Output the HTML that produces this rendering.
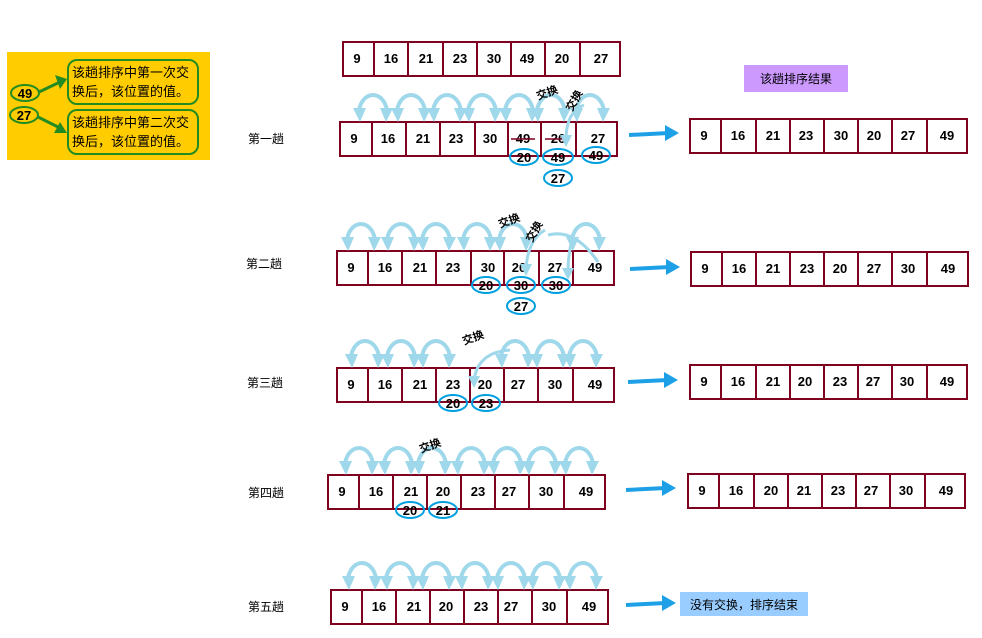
<!DOCTYPE html>
<html><head><meta charset="utf-8"><style>
body{margin:0;background:#fff}
svg{display:block}
text{font-family:"Liberation Sans","Noto Sans CJK SC",sans-serif;}
.n{font-size:13px;fill:#000;text-anchor:middle;font-weight:bold}
.c{stroke:#800020;stroke-width:2;fill:#fff}
.e{stroke:#00a0e0;stroke-width:2;fill:none}
.l{font-size:12px;text-anchor:middle}
</style></head><body>
<svg width="982" height="638" viewBox="0 0 982 638">
<defs>
<g id="arc"><path d="M-14,-12 C-10,-32 10,-32 14,-12" fill="none" stroke="#9ed8ea" stroke-width="4"/><polygon points="-20,-14 -7,-14 -13,0" fill="#9ed8ea"/><polygon points="7,-14 20,-14 13,0" fill="#9ed8ea"/></g>
<g id="bl"><path d="M0,0 L40,-2" stroke="#1ea0e6" stroke-width="4"/><polygon points="36,-10 50,-2 36,6" fill="#1ea0e6"/></g>
</defs>

<!-- legend -->
<rect x="7" y="52" width="203" height="108" fill="#ffcc00"/>
<rect x="68" y="60" width="130" height="44" rx="9" fill="#ffcc00" stroke="#228b22" stroke-width="2"/>
<rect x="68" y="110" width="130" height="44" rx="9" fill="#ffcc00" stroke="#228b22" stroke-width="2"/>
<text x="72" y="77" font-size="13">该趟排序中第一次交</text><text x="72" y="96" font-size="13">换后，该位置的值。</text>
<text x="72" y="127" font-size="13">该趟排序中第二次交</text><text x="72" y="146" font-size="13">换后，该位置的值。</text>
<ellipse cx="25" cy="93" rx="14" ry="8" fill="#ffcc00" stroke="#228b22" stroke-width="2"/>
<ellipse cx="24" cy="115" rx="14" ry="8" fill="#ffcc00" stroke="#228b22" stroke-width="2"/>
<text x="25" y="98" class="n">49</text><text x="24" y="120" class="n">27</text>
<path d="M39,92 L60,82" stroke="#228b22" stroke-width="3"/><polygon points="55,75 67,79 60,89" fill="#228b22"/>
<path d="M38,117 L60,128" stroke="#228b22" stroke-width="3"/><polygon points="54,133 67,133 60,122" fill="#228b22"/>

<!-- top row -->
<rect x="343" y="42" width="277" height="34" class="c"/>
<path d="M374,42V76M408,42V76M443,42V76M477,42V76M511,42V76M545,42V76M580,42V76" class="c"/>
<text class="n" y="63"><tspan x="357">9</tspan><tspan x="391">16</tspan><tspan x="426">21</tspan><tspan x="460">23</tspan><tspan x="494">30</tspan><tspan x="527">49</tspan><tspan x="562">20</tspan><tspan x="601">27</tspan></text>

<rect x="744" y="65" width="104" height="27" fill="#cc99ff"/>
<text x="796" y="83" class="l" font-size="13">该趟排序结果</text>

<!-- row1 -->
<text x="266" y="143" class="l">第一趟</text>
<rect x="340" y="122" width="277" height="34" class="c"/>
<path d="M372,122V156M406,122V156M440,122V156M475,122V156M508,122V156M541,122V156M576,122V156" class="c"/>
<text class="n" y="143"><tspan x="354">9</tspan><tspan x="388">16</tspan><tspan x="423">21</tspan><tspan x="456">23</tspan><tspan x="490">30</tspan><tspan x="523">49</tspan><tspan x="558">26</tspan><tspan x="598">27</tspan></text>
<path d="M511,139H535M545,139H570" stroke="#800020" stroke-width="1.5"/>
<use href="#arc" x="373" y="122"/><use href="#arc" x="411" y="122"/><use href="#arc" x="447" y="122"/><use href="#arc" x="482" y="122"/><use href="#arc" x="519" y="122"/><use href="#arc" x="551" y="122"/><use href="#arc" x="590" y="122"/>
<path d="M584,105 Q566,112 566,140" fill="none" stroke="#9ed8ea" stroke-width="3"/><polygon points="560,135 572,135 566,147" fill="#9ed8ea"/>
<text x="538" y="100" font-size="11" font-weight="bold" transform="rotate(-20 538 100)">交换</text>
<text x="572" y="112" font-size="11" font-weight="bold" transform="rotate(-60 572 112)">交换</text>
<ellipse cx="524" cy="157" rx="14" ry="8" class="e"/><text x="524" y="162" class="n">20</text>
<ellipse cx="558" cy="157" rx="15" ry="8" class="e"/><text x="558" y="162" class="n">49</text>
<ellipse cx="596" cy="155" rx="14" ry="8" class="e"/><text x="596" y="160" class="n">49</text>
<ellipse cx="558" cy="178" rx="14" ry="8" class="e"/><text x="558" y="183" class="n">27</text>
<use href="#bl" x="629" y="135"/>
<rect x="690" y="119" width="277" height="34" class="c"/>
<path d="M721,119V153M756,119V153M790,119V153M824,119V153M858,119V153M892,119V153M927,119V153" class="c"/>
<text class="n" y="140"><tspan x="704">9</tspan><tspan x="738">16</tspan><tspan x="773">21</tspan><tspan x="806">23</tspan><tspan x="841">30</tspan><tspan x="874">20</tspan><tspan x="908">27</tspan><tspan x="947">49</tspan></text>

<!-- row2 -->
<text x="264" y="268" class="l">第二趟</text>
<rect x="337" y="251" width="277" height="34" class="c"/>
<path d="M368,251V285M402,251V285M436,251V285M471,251V285M504,251V285M539,251V285M573,251V285" class="c"/>
<text class="n" y="272"><tspan x="351">9</tspan><tspan x="385">16</tspan><tspan x="420">21</tspan><tspan x="453">23</tspan><tspan x="488">30</tspan><tspan x="519">20</tspan><tspan x="555">27</tspan><tspan x="595">49</tspan></text>
<use href="#arc" x="361" y="251"/><use href="#arc" x="401" y="251"/><use href="#arc" x="436" y="251"/><use href="#arc" x="477" y="251"/><use href="#arc" x="513" y="251"/><use href="#arc" x="586" y="251"/>
<path d="M545,230 Q528,240 526,268" fill="none" stroke="#9ed8ea" stroke-width="3"/><polygon points="520,264 532,264 526,276" fill="#9ed8ea"/>
<path d="M598,262 Q575,228 548,235" fill="none" stroke="#9ed8ea" stroke-width="3"/>
<path d="M572,240 Q568,255 568,272" fill="none" stroke="#9ed8ea" stroke-width="3"/><polygon points="562,268 574,268 568,280" fill="#9ed8ea"/>
<text x="500" y="228" font-size="11" font-weight="bold" transform="rotate(-20 500 228)">交换</text>
<text x="532" y="243" font-size="11" font-weight="bold" transform="rotate(-60 532 243)">交换</text>
<ellipse cx="486" cy="285" rx="14" ry="8" class="e"/><text x="486" y="290" class="n">20</text>
<ellipse cx="521" cy="285" rx="14" ry="8" class="e"/><text x="521" y="290" class="n">30</text>
<ellipse cx="556" cy="285" rx="14" ry="8" class="e"/><text x="556" y="290" class="n">30</text>
<ellipse cx="521" cy="306" rx="14" ry="8" class="e"/><text x="521" y="311" class="n">27</text>
<use href="#bl" x="630" y="269"/>
<rect x="691" y="252" width="277" height="34" class="c"/>
<path d="M722,252V286M756,252V286M790,252V286M824,252V286M858,252V286M892,252V286M927,252V286" class="c"/>
<text class="n" y="273"><tspan x="705">9</tspan><tspan x="739">16</tspan><tspan x="773">21</tspan><tspan x="807">23</tspan><tspan x="840">20</tspan><tspan x="874">27</tspan><tspan x="908">30</tspan><tspan x="948">49</tspan></text>

<!-- row3 -->
<text x="265" y="387" class="l">第三趟</text>
<rect x="337" y="368" width="277" height="34" class="c"/>
<path d="M368,368V402M402,368V402M436,368V402M470,368V402M504,368V402M538,368V402M573,368V402" class="c"/>
<text class="n" y="389"><tspan x="351">9</tspan><tspan x="385">16</tspan><tspan x="420">21</tspan><tspan x="453">23</tspan><tspan x="485">20</tspan><tspan x="518">27</tspan><tspan x="555">30</tspan><tspan x="595">49</tspan></text>
<use href="#arc" x="365" y="368"/><use href="#arc" x="401" y="368"/><use href="#arc" x="436" y="368"/><use href="#arc" x="515" y="368"/><use href="#arc" x="550" y="368"/><use href="#arc" x="583" y="368"/>
<path d="M510,350 Q478,352 474,380" fill="none" stroke="#9ed8ea" stroke-width="3"/><polygon points="468,376 480,376 474,388" fill="#9ed8ea"/>
<text x="464" y="345" font-size="11" font-weight="bold" transform="rotate(-20 464 345)">交换</text>
<ellipse cx="453" cy="403" rx="14" ry="8" class="e"/><text x="453" y="408" class="n">20</text>
<ellipse cx="486" cy="403" rx="14" ry="8" class="e"/><text x="486" y="408" class="n">23</text>
<use href="#bl" x="628" y="382"/>
<rect x="690" y="365" width="277" height="34" class="c"/>
<path d="M721,365V399M756,365V399M790,365V399M824,365V399M858,365V399M892,365V399M927,365V399" class="c"/>
<text class="n" y="386"><tspan x="704">9</tspan><tspan x="738">16</tspan><tspan x="773">21</tspan><tspan x="805">20</tspan><tspan x="840">23</tspan><tspan x="873">27</tspan><tspan x="907">30</tspan><tspan x="947">49</tspan></text>

<!-- row4 -->
<text x="266" y="497" class="l">第四趟</text>
<rect x="328" y="475" width="277" height="34" class="c"/>
<path d="M359,475V509M393,475V509M427,475V509M461,475V509M495,475V509M529,475V509M564,475V509" class="c"/>
<text class="n" y="496"><tspan x="342">9</tspan><tspan x="376">16</tspan><tspan x="411">21</tspan><tspan x="443">20</tspan><tspan x="478">23</tspan><tspan x="509">27</tspan><tspan x="546">30</tspan><tspan x="586">49</tspan></text>
<use href="#arc" x="359" y="475"/><use href="#arc" x="398" y="475"/><use href="#arc" x="432" y="475"/><use href="#arc" x="471" y="475"/><use href="#arc" x="507" y="475"/><use href="#arc" x="542" y="475"/><use href="#arc" x="579" y="475"/>
<text x="421" y="453" font-size="11" font-weight="bold" transform="rotate(-20 421 453)">交换</text>
<ellipse cx="410" cy="510" rx="14" ry="8" class="e"/><text x="410" y="515" class="n">20</text>
<ellipse cx="443" cy="510" rx="14" ry="8" class="e"/><text x="443" y="515" class="n">21</text>
<use href="#bl" x="626" y="490"/>
<rect x="688" y="474" width="277" height="34" class="c"/>
<path d="M719,474V508M754,474V508M788,474V508M822,474V508M856,474V508M890,474V508M925,474V508" class="c"/>
<text class="n" y="495"><tspan x="702">9</tspan><tspan x="736">16</tspan><tspan x="771">20</tspan><tspan x="804">21</tspan><tspan x="838">23</tspan><tspan x="871">27</tspan><tspan x="906">30</tspan><tspan x="946">49</tspan></text>

<!-- row5 -->
<text x="266" y="611" class="l">第五趟</text>
<rect x="331" y="590" width="277" height="34" class="c"/>
<path d="M362,590V624M396,590V624M430,590V624M464,590V624M498,590V624M532,590V624M567,590V624" class="c"/>
<text class="n" y="611"><tspan x="345">9</tspan><tspan x="379">16</tspan><tspan x="414">21</tspan><tspan x="446">20</tspan><tspan x="481">23</tspan><tspan x="511">27</tspan><tspan x="549">30</tspan><tspan x="589">49</tspan></text>
<use href="#arc" x="362" y="590"/><use href="#arc" x="400" y="590"/><use href="#arc" x="436" y="590"/><use href="#arc" x="475" y="590"/><use href="#arc" x="511" y="590"/><use href="#arc" x="546" y="590"/><use href="#arc" x="583" y="590"/>
<use href="#bl" x="626" y="605"/>
<rect x="680" y="592" width="128" height="24" fill="#99ccff"/>
<text x="744" y="609" class="l" font-size="13">没有交换，排序结束</text>
</svg>
</body></html>
